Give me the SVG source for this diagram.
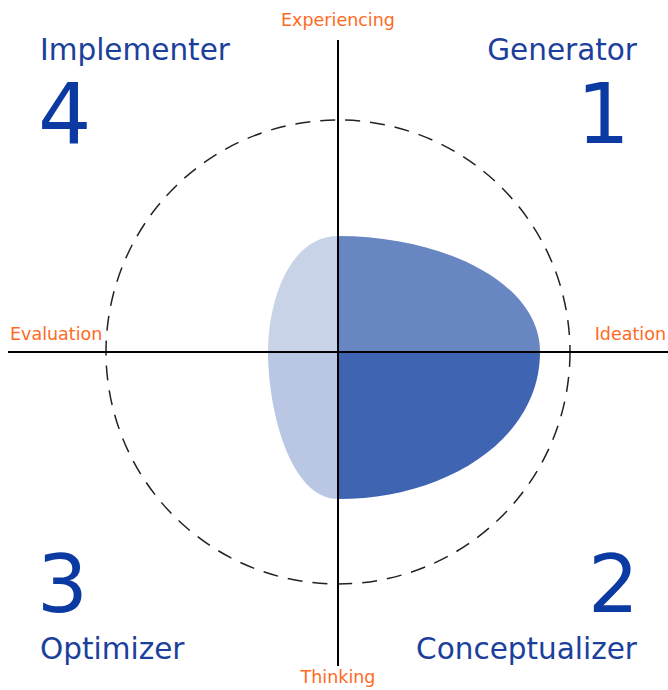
<svg xmlns="http://www.w3.org/2000/svg" width="668" height="690" viewBox="0 0 668 690">
<style>
.ax{font-family:"DejaVu Sans",Verdana,sans-serif;font-size:17.5px;fill:#ff6a1f}
.nm{font-family:"DejaVu Sans",Verdana,sans-serif;font-size:29.5px;fill:#1c3f9c}
.dg{font-family:"DejaVu Sans",Verdana,sans-serif;font-size:84px;fill:#0b3aa2}
.dgb{font-size:80px}
.axis{stroke:#000;stroke-width:2;fill:none}
</style>
<rect width="668" height="690" fill="#fff"/>
<g id="profile">
<path d="M338,236 C290,236 268,300 268,352 L338,352 Z" fill="#c8d3e8"/>
<path d="M268,352 C268,410 290,499 338,499 L338,352 Z" fill="#b9c7e4"/>
<path d="M338,236 C442,236 540,282 540,352 L338,352 Z" fill="#6886c2"/>
<path d="M540,352 C540,440 445,499 338,499 L338,352 Z" fill="#3f64b2"/>
</g>
<g id="circle">
<circle cx="338" cy="352" r="232" fill="none" stroke="#222" stroke-width="1.5" stroke-dasharray="15,10"/>
</g>
<g id="connectors">
<line class="axis" x1="338" y1="40" x2="338" y2="666"/>
<line class="axis" x1="8" y1="352" x2="668" y2="352"/>
</g>
<g id="axis-labels">
<text class="ax" x="338" y="26" text-anchor="middle">Experiencing</text>
<text class="ax" x="10" y="340">Evaluation</text>
<text class="ax" x="666" y="340" text-anchor="end">Ideation</text>
<text class="ax" x="338" y="683" text-anchor="middle">Thinking</text>
</g>
<g id="q4"><text class="nm" x="40" y="60">Implementer</text><text class="dg" x="38" y="143">4</text></g>
<g id="q1"><text class="nm" x="637" y="60" text-anchor="end">Generator</text><text class="dg" x="630" y="143" text-anchor="end">1</text></g>
<g id="q3"><text class="dg dgb" x="37" y="612">3</text><text class="nm" x="40" y="659">Optimizer</text></g>
<g id="q2"><text class="dg dgb" x="639" y="612" text-anchor="end">2</text><text class="nm" x="637" y="659" text-anchor="end">Conceptualizer</text></g>
</svg>
